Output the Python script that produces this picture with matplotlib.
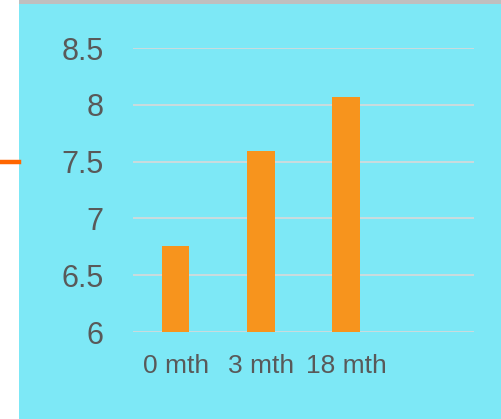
import matplotlib
matplotlib.use("Agg")
import matplotlib.pyplot as plt
from matplotlib.patches import Rectangle
from matplotlib.lines import Line2D

# data
categories = ["0 mth", "3 mth", "18 mth", ""]
values = [6.76, 7.59, 8.07, None]
yticks = [6, 6.5, 7, 7.5, 8, 8.5]
ytick_labels = ["6", "6.5", "7", "7.5", "8", "8.5"]

plt.rcParams['font.family'] = ['Liberation Sans', 'DejaVu Sans']

W, H = 501, 419
fig = plt.figure(figsize=(W / 100, H / 100), dpi=100)
fig.patch.set_facecolor("white")

# cyan panel, grey strip on top, orange stub at left
fig.patches.append(Rectangle((19 / W, 0), 1 - 19 / W, 1, transform=fig.transFigure,
                             facecolor="#7de8f6", edgecolor="none", zorder=-2))
fig.patches.append(Rectangle((19 / W, 1 - 4 / H), 1 - 19 / W, 4 / H, transform=fig.transFigure,
                             facecolor="#bfbfbf", edgecolor="none", zorder=-1))
fig.lines.append(Line2D([0, 19 / W], [1 - 162 / H, 1 - 162 / H], transform=fig.transFigure,
                        color="#ff6600", linewidth=3.2, zorder=-1))

ax = fig.add_axes([133 / W, 1 - 332 / H, (474 - 133) / W, (332 - 48) / H])
ax.set_facecolor("none")
ax.set_zorder(2)

xs = [i for i, v in enumerate(values) if v is not None]
ax.bar(xs, [values[i] - 6 for i in xs], bottom=6, width=0.32, color="#f7941d", zorder=3)

ax.set_xlim(-0.5, len(categories) - 0.5)
ax.set_ylim(6, 8.5)
ax.set_yticks(yticks)
ax.set_yticklabels(ytick_labels)
ax.set_xticks(range(len(categories)))
ax.set_xticklabels(categories)

ax.yaxis.grid(True, color="#d9d9d9", linewidth=1.2, zorder=1)
ax.xaxis.grid(False)
ax.set_axisbelow(True)
for s in ax.spines.values():
    s.set_visible(False)
ax.tick_params(axis="y", length=0, pad=21, labelsize=22, labelcolor="#595959")
ax.tick_params(axis="x", length=0, pad=16, labelsize=19, labelcolor="#595959")

fig.savefig("out.png", dpi=100)
